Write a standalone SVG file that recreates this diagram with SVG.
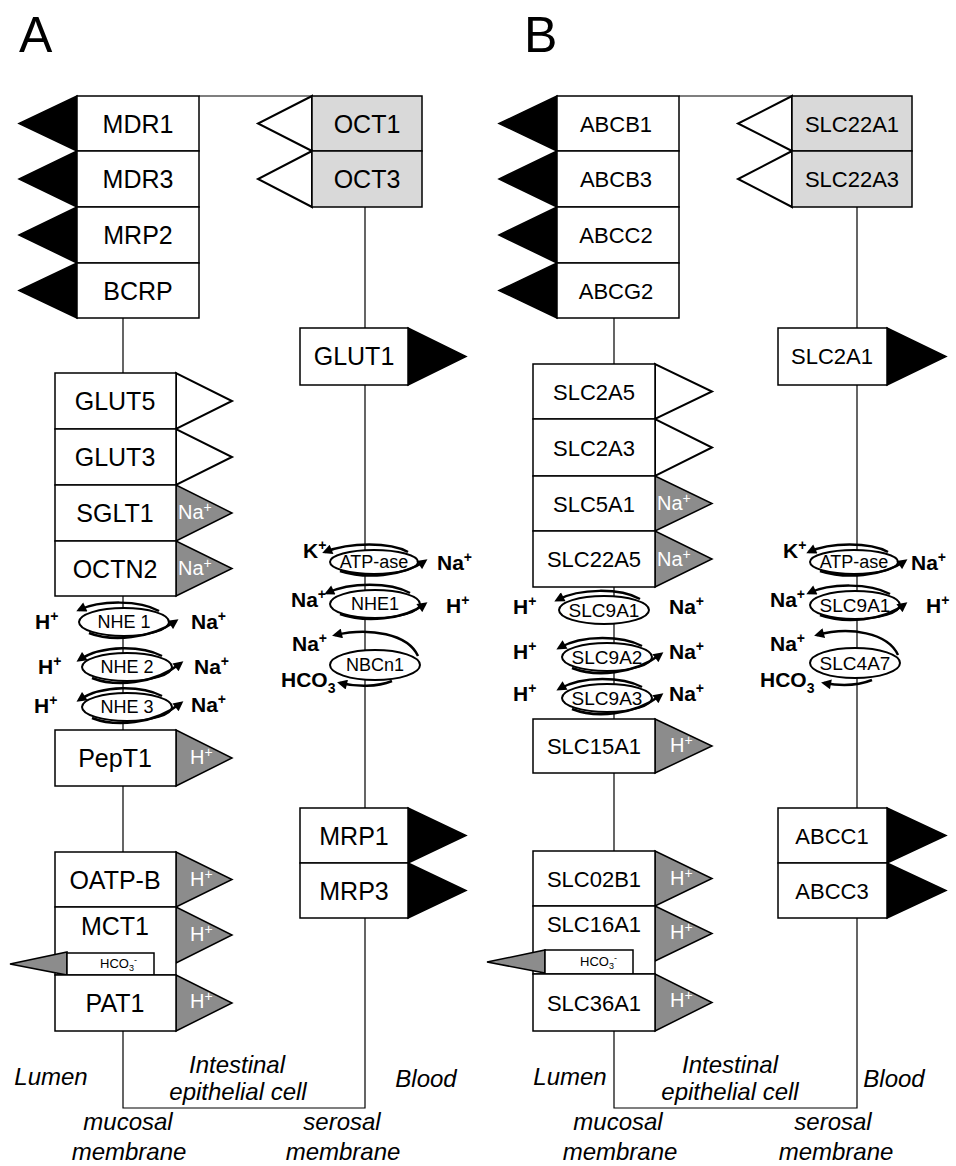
<svg xmlns="http://www.w3.org/2000/svg" width="956" height="1166" viewBox="0 0 956 1166">
<defs>
<marker id="ah" viewBox="0 0 10 10" refX="7" refY="5" markerWidth="11" markerHeight="10" markerUnits="userSpaceOnUse" orient="auto"><path d="M0,0 L10,5 L0,10 z" fill="#000"/></marker>
<style>
.box{fill:#fff;stroke:#000;stroke-width:1.5}
.gbox{fill:#d9d9d9;stroke:#000;stroke-width:1.5}
.tb{fill:#000;stroke:#000;stroke-width:1.5;stroke-linejoin:miter}
.tw{fill:#fff;stroke:#000;stroke-width:2}
.tg{fill:#8c8c8c;stroke:#000;stroke-width:1.5}
.ln{fill:none;stroke:#000;stroke-width:1.2}
.ell{fill:#fff;stroke:#000;stroke-width:2}
.flux{fill:none;stroke:#000;stroke-width:2.5;marker-end:url(#ah)}
text{font-family:"Liberation Sans",Arial,sans-serif}
.la{font-size:25px;text-anchor:middle}
.lb{font-size:22px;text-anchor:middle}
.el{font-size:18px;text-anchor:middle}
.elb{font-size:19px;text-anchor:middle}
.ion{font-size:21px;font-weight:bold}
.win{font-size:20px;fill:#fff}
.sup{font-size:14px}
.it{font-size:24px;font-style:italic;text-anchor:middle}
.hd{font-size:50px}
.sm{font-size:13px}
.sms{font-size:9px}
</style>
</defs>

<text class="hd" x="19" y="52">A</text>
<text class="hd" x="524" y="52">B</text>

<g id="connectors">
<path class="ln" d="M199,96 H312"/>
<path class="ln" d="M123,318 V1108 H365 V207"/>
<path class="ln" d="M679,96 H792"/>
<path class="ln" d="M614,318 V1108 H857 V207"/>
</g>

<!-- Panel A -->
<g id="A-MDR1"><polygon class="tb" points="77,96 77,151 19,123.5"/><rect class="box" x="77" y="96" width="122" height="55"/><text class="la" x="138" y="133">MDR1</text></g>
<g id="A-MDR3"><polygon class="tb" points="77,151 77,207 19,179"/><rect class="box" x="77" y="151" width="122" height="56"/><text class="la" x="138" y="188">MDR3</text></g>
<g id="A-MRP2"><polygon class="tb" points="77,207 77,263 19,235"/><rect class="box" x="77" y="207" width="122" height="56"/><text class="la" x="138" y="244">MRP2</text></g>
<g id="A-BCRP"><polygon class="tb" points="77,263 77,318 19,290.5"/><rect class="box" x="77" y="263" width="122" height="55"/><text class="la" x="138" y="300">BCRP</text></g>
<g id="A-OCT1"><polygon class="tw" points="312,96 312,151 258,123.5"/><rect class="gbox" x="312" y="96" width="110" height="55"/><text class="la" x="367" y="133">OCT1</text></g>
<g id="A-OCT3"><polygon class="tw" points="312,151 312,207 258,179"/><rect class="gbox" x="312" y="151" width="110" height="56"/><text class="la" x="367" y="188">OCT3</text></g>
<g id="A-GLUT1"><polygon class="tb" points="408,328 408,385 466,356.5"/><rect class="box" x="300" y="328" width="108" height="57"/><text class="la" x="354" y="365">GLUT1</text></g>
<g id="A-GLUT5"><polygon class="tw" points="176,373 176,429 232,401"/><rect class="box" x="55" y="373" width="121" height="56"/><text class="la" x="115" y="410">GLUT5</text></g>
<g id="A-GLUT3"><polygon class="tw" points="176,429 176,485 232,457"/><rect class="box" x="55" y="429" width="121" height="56"/><text class="la" x="115" y="466">GLUT3</text></g>
<g id="A-SGLT1"><polygon class="tg" points="176,485 176,541 232,513"/><rect class="box" x="55" y="485" width="121" height="56"/><text class="la" x="115" y="522">SGLT1</text><text class="win" x="178" y="519">Na<tspan class="sup" dy="-7">+</tspan></text></g>
<g id="A-OCTN2"><polygon class="tg" points="176,541 176,596 232,568.5"/><rect class="box" x="55" y="541" width="121" height="55"/><text class="la" x="115" y="578">OCTN2</text><text class="win" x="178" y="575">Na<tspan class="sup" dy="-7">+</tspan></text></g>

<g id="A-NHE1">
<ellipse class="ell" cx="124" cy="622" rx="45" ry="14"/><text class="el" x="124" y="628">NHE 1</text>
<path class="flux" d="M159,611 C140,600 100,600 79,610"/>
<path class="flux" d="M89,633 C112,642 150,639 176,621"/>
<text class="ion" x="35" y="629">H<tspan class="sup" dy="-8">+</tspan></text>
<text class="ion" x="191" y="629">Na<tspan class="sup" dy="-8">+</tspan></text>
</g>
<g id="A-NHE2">
<ellipse class="ell" cx="127" cy="667" rx="45" ry="14"/><text class="el" x="127" y="673">NHE 2</text>
<path class="flux" d="M162,656 C143,646 103,644 79,660"/>
<path class="flux" d="M92,678 C115,687 153,685 181,663"/>
<text class="ion" x="38" y="674">H<tspan class="sup" dy="-8">+</tspan></text>
<text class="ion" x="194" y="674">Na<tspan class="sup" dy="-8">+</tspan></text>
</g>
<g id="A-NHE3">
<ellipse class="ell" cx="127" cy="707" rx="45" ry="14"/><text class="el" x="127" y="713">NHE 3</text>
<path class="flux" d="M162,696 C143,686 103,684 79,700"/>
<path class="flux" d="M92,718 C115,727 153,725 181,703"/>
<text class="ion" x="34" y="713">H<tspan class="sup" dy="-8">+</tspan></text>
<text class="ion" x="191" y="712">Na<tspan class="sup" dy="-8">+</tspan></text>
</g>

<g id="A-PepT1"><polygon class="tg" points="176,730 176,786 232,758"/><rect class="box" x="55" y="730" width="121" height="56"/><text class="la" x="115" y="767">PepT1</text><text class="win" x="190" y="764">H<tspan class="sup" dy="-7">+</tspan></text></g>
<g id="A-OATPB"><polygon class="tg" points="176,852 176,907 232,879.5"/><rect class="box" x="55" y="852" width="121" height="55"/><text class="la" x="115" y="889">OATP-B</text><text class="win" x="190" y="886">H<tspan class="sup" dy="-7">+</tspan></text></g>
<g id="A-MCT1"><polygon class="tg" points="176,907 176,963 232,935"/><rect class="box" x="55" y="907" width="121" height="68"/><text class="la" x="115" y="935">MCT1</text><text class="win" x="190" y="941">H<tspan class="sup" dy="-7">+</tspan></text></g>
<g id="A-HCO3"><polygon class="tg" points="67,952 67,975 10,964"/><rect class="box" x="67" y="953" width="87" height="22"/><text class="sm" x="100" y="968">HCO<tspan class="sms" dy="3">3</tspan><tspan class="sms" dy="-8">-</tspan></text></g>
<g id="A-PAT1"><polygon class="tg" points="176,975 176,1031 232,1003"/><rect class="box" x="55" y="975" width="121" height="56"/><text class="la" x="115" y="1012">PAT1</text><text class="win" x="190" y="1008">H<tspan class="sup" dy="-7">+</tspan></text></g>

<g id="A-ATPase">
<ellipse class="ell" cx="374" cy="562" rx="44" ry="12"/><text class="el" x="374" y="568">ATP-ase</text>
<path class="flux" d="M408,552 C390,542 350,542 325,552"/>
<path class="flux" d="M340,571 C365,579 402,577 425,561"/>
<text class="ion" x="303" y="558">K<tspan class="sup" dy="-8">+</tspan></text>
<text class="ion" x="437" y="570">Na<tspan class="sup" dy="-8">+</tspan></text>
</g>
<g id="A-NHE1b">
<ellipse class="ell" cx="375" cy="604" rx="45" ry="14"/><text class="el" x="375" y="610">NHE1</text>
<path class="flux" d="M410,593 C390,582 350,582 327,593"/>
<path class="flux" d="M340,614 C365,623 403,620 425,604"/>
<text class="ion" x="291" y="607">Na<tspan class="sup" dy="-8">+</tspan></text>
<text class="ion" x="446" y="613">H<tspan class="sup" dy="-8">+</tspan></text>
</g>
<g id="A-NBCn1">
<ellipse class="ell" cx="375" cy="665" rx="45" ry="15"/><text class="el" x="375" y="671">NBCn1</text>
<path class="flux" d="M418,656 C408,634 370,627 335,635"/>
<path class="flux" d="M392,681 C377,687 357,687 340,683"/>
<text class="ion" x="292" y="651">Na<tspan class="sup" dy="-8">+</tspan></text>
<text class="ion" x="281" y="687">HCO<tspan class="sup" dy="6">3</tspan></text>
</g>

<g id="A-MRP1"><polygon class="tb" points="408,808 408,863 466,835.5"/><rect class="box" x="300" y="808" width="108" height="55"/><text class="la" x="354" y="845">MRP1</text></g>
<g id="A-MRP3"><polygon class="tb" points="408,863 408,918 466,890.5"/><rect class="box" x="300" y="863" width="108" height="55"/><text class="la" x="354" y="900">MRP3</text></g>

<g id="A-labels">
<text class="it" x="51" y="1085">Lumen</text>
<text class="it" x="237" y="1073">Intestinal</text>
<text class="it" x="238" y="1100">epithelial cell</text>
<text class="it" x="426" y="1087">Blood</text>
<text class="it" x="128" y="1130">mucosal</text>
<text class="it" x="129" y="1160">membrane</text>
<text class="it" x="342" y="1130">serosal</text>
<text class="it" x="343" y="1160">membrane</text>
</g>

<!-- Panel B -->
<g id="B-ABCB1"><polygon class="tb" points="557,96 557,151 499,123.5"/><rect class="box" x="557" y="96" width="122" height="55"/><text class="lb" x="616" y="132">ABCB1</text></g>
<g id="B-ABCB3"><polygon class="tb" points="557,151 557,207 499,179"/><rect class="box" x="557" y="151" width="122" height="56"/><text class="lb" x="616" y="187">ABCB3</text></g>
<g id="B-ABCC2"><polygon class="tb" points="557,207 557,263 499,235"/><rect class="box" x="557" y="207" width="122" height="56"/><text class="lb" x="616" y="243">ABCC2</text></g>
<g id="B-ABCG2"><polygon class="tb" points="557,263 557,318 499,290.5"/><rect class="box" x="557" y="263" width="122" height="55"/><text class="lb" x="616" y="299">ABCG2</text></g>
<g id="B-SLC22A1"><polygon class="tw" points="792,96 792,151 738,123.5"/><rect class="gbox" x="792" y="96" width="120" height="55"/><text class="lb" x="852" y="132">SLC22A1</text></g>
<g id="B-SLC22A3"><polygon class="tw" points="792,151 792,207 738,179"/><rect class="gbox" x="792" y="151" width="120" height="56"/><text class="lb" x="852" y="187">SLC22A3</text></g>
<g id="B-SLC2A1"><polygon class="tb" points="887,328 887,385 946,356.5"/><rect class="box" x="778" y="328" width="109" height="57"/><text class="lb" x="832" y="364">SLC2A1</text></g>
<g id="B-SLC2A5"><polygon class="tw" points="655,364 655,419 712,391.5"/><rect class="box" x="533" y="364" width="122" height="55"/><text class="lb" x="594" y="400">SLC2A5</text></g>
<g id="B-SLC2A3"><polygon class="tw" points="655,419 655,476 712,447.5"/><rect class="box" x="533" y="419" width="122" height="57"/><text class="lb" x="594" y="456">SLC2A3</text></g>
<g id="B-SLC5A1"><polygon class="tg" points="655,476 655,531 712,503.5"/><rect class="box" x="533" y="476" width="122" height="55"/><text class="lb" x="594" y="512">SLC5A1</text><text class="win" x="657" y="510">Na<tspan class="sup" dy="-7">+</tspan></text></g>
<g id="B-SLC22A5"><polygon class="tg" points="655,531 655,587 712,559"/><rect class="box" x="533" y="531" width="122" height="56"/><text class="lb" x="594" y="567">SLC22A5</text><text class="win" x="657" y="566">Na<tspan class="sup" dy="-7">+</tspan></text></g>

<g id="B-SLC9A1">
<ellipse class="ell" cx="604" cy="610" rx="45" ry="14"/><text class="elb" x="604" y="617">SLC9A1</text>
<path class="flux" d="M640,599 C620,588 580,588 557,600"/>
<text class="ion" x="513" y="614">H<tspan class="sup" dy="-8">+</tspan></text>
<text class="ion" x="669" y="614">Na<tspan class="sup" dy="-8">+</tspan></text>
</g>
<g id="B-SLC9A2">
<ellipse class="ell" cx="607" cy="657" rx="45" ry="14"/><text class="elb" x="607" y="664">SLC9A2</text>
<path class="flux" d="M642,646 C623,636 583,634 559,648"/>
<path class="flux" d="M572,668 C595,677 633,675 661,654"/>
<text class="ion" x="513" y="659">H<tspan class="sup" dy="-8">+</tspan></text>
<text class="ion" x="669" y="659">Na<tspan class="sup" dy="-8">+</tspan></text>
</g>
<g id="B-SLC9A3">
<ellipse class="ell" cx="607" cy="698" rx="45" ry="14"/><text class="elb" x="607" y="705">SLC9A3</text>
<path class="flux" d="M642,687 C623,677 583,675 559,689"/>
<path class="flux" d="M572,709 C595,718 633,716 661,695"/>
<text class="ion" x="513" y="701">H<tspan class="sup" dy="-8">+</tspan></text>
<text class="ion" x="669" y="701">Na<tspan class="sup" dy="-8">+</tspan></text>
</g>

<g id="B-SLC15A1"><polygon class="tg" points="655,719 655,773 712,746"/><rect class="box" x="533" y="719" width="122" height="54"/><text class="lb" x="594" y="754">SLC15A1</text><text class="win" x="670" y="752">H<tspan class="sup" dy="-7">+</tspan></text></g>
<g id="B-SLC02B1"><polygon class="tg" points="655,851 655,906 712,878.5"/><rect class="box" x="533" y="851" width="122" height="55"/><text class="lb" x="594" y="887">SLC02B1</text><text class="win" x="670" y="885">H<tspan class="sup" dy="-7">+</tspan></text></g>
<g id="B-SLC16A1"><polygon class="tg" points="655,906 655,961 712,933.5"/><rect class="box" x="533" y="906" width="122" height="68"/><text class="lb" x="594" y="932">SLC16A1</text><text class="win" x="670" y="939">H<tspan class="sup" dy="-7">+</tspan></text></g>
<g id="B-HCO3"><polygon class="tg" points="545,950 545,973 487,962"/><rect class="box" x="545" y="950" width="88" height="24"/><text class="sm" x="580" y="966">HCO<tspan class="sms" dy="3">3</tspan><tspan class="sms" dy="-8">-</tspan></text></g>
<g id="B-SLC36A1"><polygon class="tg" points="655,974 655,1031 712,1002.5"/><rect class="box" x="533" y="974" width="122" height="57"/><text class="lb" x="594" y="1011">SLC36A1</text><text class="win" x="670" y="1007">H<tspan class="sup" dy="-7">+</tspan></text></g>

<g id="B-ATPase">
<ellipse class="ell" cx="854" cy="562" rx="44" ry="12"/><text class="el" x="854" y="568">ATP-ase</text>
<path class="flux" d="M888,552 C870,542 830,542 809,552"/>
<path class="flux" d="M820,571 C845,579 882,577 905,561"/>
<text class="ion" x="783" y="558">K<tspan class="sup" dy="-8">+</tspan></text>
<text class="ion" x="911" y="570">Na<tspan class="sup" dy="-8">+</tspan></text>
</g>
<g id="B-SLC9A1b">
<ellipse class="ell" cx="855" cy="605" rx="45" ry="14"/><text class="elb" x="855" y="612">SLC9A1</text>
<path class="flux" d="M890,594 C870,583 830,583 809,593"/>
<path class="flux" d="M820,615 C845,624 883,621 905,604"/>
<text class="ion" x="770" y="607">Na<tspan class="sup" dy="-8">+</tspan></text>
<text class="ion" x="926" y="613">H<tspan class="sup" dy="-8">+</tspan></text>
</g>
<g id="B-SLC4A7">
<ellipse class="ell" cx="855" cy="663" rx="45" ry="15"/><text class="elb" x="855" y="670">SLC4A7</text>
<path class="flux" d="M898,655 C888,633 850,626 817,635"/>
<path class="flux" d="M872,680 C857,686 840,686 824,683"/>
<text class="ion" x="770" y="651">Na<tspan class="sup" dy="-8">+</tspan></text>
<text class="ion" x="760" y="687">HCO<tspan class="sup" dy="6">3</tspan></text>
</g>

<g id="B-ABCC1"><polygon class="tb" points="887,808 887,863 946,835.5"/><rect class="box" x="778" y="808" width="109" height="55"/><text class="lb" x="832" y="844">ABCC1</text></g>
<g id="B-ABCC3"><polygon class="tb" points="887,863 887,918 946,890.5"/><rect class="box" x="778" y="863" width="109" height="55"/><text class="lb" x="832" y="899">ABCC3</text></g>

<g id="B-labels">
<text class="it" x="570" y="1085">Lumen</text>
<text class="it" x="730" y="1073">Intestinal</text>
<text class="it" x="730" y="1100">epithelial cell</text>
<text class="it" x="894" y="1087">Blood</text>
<text class="it" x="618" y="1130">mucosal</text>
<text class="it" x="620" y="1160">membrane</text>
<text class="it" x="833" y="1130">serosal</text>
<text class="it" x="836" y="1160">membrane</text>
</g>
</svg>
